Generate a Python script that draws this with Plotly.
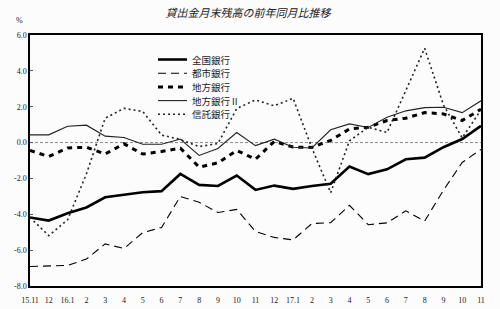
import plotly.graph_objects as go

months = ["15.11", "12", "16.1", "2", "3", "4", "5", "6", "7", "8", "9", "10", "11",
          "12", "17.1", "2", "3", "4", "5", "6", "7", "8", "9", "10", "11"]

zenkoku = [-4.18, -4.35, -3.94, -3.62, -3.05, -2.90, -2.77, -2.71, -1.75, -2.36, -2.42, -1.84, -2.64,
           -2.40, -2.58, -2.42, -2.30, -1.34, -1.76, -1.49, -0.93, -0.84, -0.26, 0.20, 0.93]
toshi = [-6.91, -6.86, -6.85, -6.50, -5.65, -5.91, -5.02, -4.74, -3.01, -3.33, -3.90, -3.73, -4.96,
         -5.29, -5.43, -4.52, -4.47, -3.50, -4.58, -4.48, -3.81, -4.38, -2.66, -1.11, -0.38]
chiho = [-0.44, -0.78, -0.30, -0.26, -0.64, -0.07, -0.64, -0.50, -0.31, -1.37, -1.13, -0.44, -0.93,
         0.06, -0.25, -0.27, 0.12, 0.76, 0.86, 1.23, 1.36, 1.67, 1.60, 1.23, 1.86]
chiho2 = [0.43, 0.43, 0.91, 0.97, 0.36, 0.28, -0.09, -0.09, 0.20, -0.72, -0.33, 0.56, -0.17,
          0.19, -0.26, -0.30, 0.71, 1.04, 0.84, 1.41, 1.77, 1.95, 1.97, 1.67, 2.33]
shintaku = [-4.18, -5.19, -4.31, -1.75, 1.36, 1.91, 1.73, 0.42, 0.17, -0.22, -0.06, 1.90, 2.38,
            2.05, 2.47, -0.30, -2.80, 0.10, 0.85, 0.56, 2.90, 5.26, 2.10, 0.26, 1.82]

series_names = ["全国銀行", "都市銀行", "地方銀行", "地方銀行Ⅱ", "信託銀行"]
y_ticks = [6.0, 4.0, 2.0, 0.0, -2.0, -4.0, -6.0, -8.0]

xs = list(range(len(months)))

styles = [
    dict(color="black", width=2.6, dash="solid"),
    dict(color="black", width=1.1, dash="8px,5px"),
    dict(color="black", width=3, dash="5px,5px"),
    dict(color="#222", width=1.1, dash="solid"),
    dict(color="#222", width=1.6, dash="2px,3px"),
]

fig = go.Figure()
for name, vals, line in zip(series_names, [zenkoku, toshi, chiho, chiho2, shintaku], styles):
    fig.add_trace(go.Scatter(x=xs, y=vals, mode="lines", name=name, line=line, showlegend=False))

fig.add_shape(type="line", xref="paper", x0=0, x1=1, yref="y", y0=0, y1=0,
              line=dict(color="#888", width=1, dash="3px,2px"), layer="below")

# legend drawn inside the plot area, compact rows
W, H = 451.0, 251.0
lx0, lx1, tx = (158 - 30) / W, (187 - 30) / W, (190 - 30) / W
row_y = [59.5, 73.2, 86.9, 100.6, 114.3]
for name, line, yy in zip(series_names, styles, row_y):
    yp = (286 - yy) / H
    fig.add_shape(type="line", xref="paper", yref="paper", x0=lx0, x1=lx1, y0=yp, y1=yp,
                  line=line)
    fig.add_annotation(text=name, xref="paper", yref="paper", x=tx, y=yp, showarrow=False,
                       xanchor="left", yanchor="middle",
                       font=dict(family="Noto Sans CJK JP", size=9.5, color="#222"))

fig.update_layout(
    width=500, height=309,
    margin=dict(l=30, r=19, t=35, b=23),
    paper_bgcolor="#fcfcfc", plot_bgcolor="#fcfcfc",
    title=dict(text="<i>貸出金月末残高の前年同月比推移</i>", x=0.496, xanchor="center",
               y=0.958, yanchor="middle",
               font=dict(family="Noto Sans CJK JP", size=11, color="#222")),
    showlegend=False,
    font=dict(family="Liberation Serif", size=8, color="#222"),
)
fig.update_xaxes(range=[0, 24], tickvals=xs, ticktext=months, showgrid=False, zeroline=False,
                 showline=True, linecolor="black", linewidth=1.5, mirror=True,
                 ticks="", ticklabelstandoff=6, automargin=False,
                 tickfont=dict(family="Liberation Serif", size=8, color="#222"))
fig.update_yaxes(range=[-8, 6], tickvals=y_ticks, ticktext=[f"{v:.1f}" for v in y_ticks],
                 showgrid=False, zeroline=False, showline=True, linecolor="black",
                 linewidth=1.5, mirror=True, ticks="inside", ticklen=3, tickcolor="#555",
                 automargin=False,
                 tickfont=dict(family="Liberation Serif", size=8, color="#222"))
fig.add_annotation(text="%", xref="paper", yref="paper", x=-0.012, y=1.03, showarrow=False,
                   xanchor="right", yanchor="bottom",
                   font=dict(family="Liberation Serif", size=8, color="#222"))

fig.write_html("out.html")
